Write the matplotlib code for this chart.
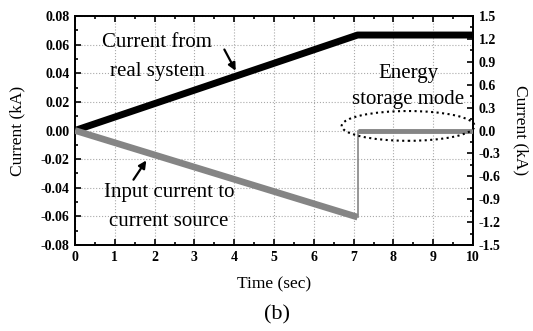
import matplotlib
matplotlib.use("Agg")
import matplotlib.pyplot as plt
from matplotlib.patches import Ellipse
from matplotlib.ticker import MultipleLocator

plt.rcParams['font.family'] = ['Liberation Serif', 'DejaVu Serif']

# data
real_t = [0.0, 7.1, 10.0]
real_i = [0.0, 0.0667, 0.0667]          # left axis (kA)
src_t = [0.0, 7.1]
src_i = [0.0, -1.135]                   # right axis (kA)
jump_t = [7.1, 7.1]
jump_i = [-1.135, 0.0]
store_t = [7.1, 10.0]
store_i = [0.0, 0.0]

fig = plt.figure(figsize=(5.33, 3.31), dpi=100)
ax = fig.add_axes([75/533, 1-245/331, (473-75)/533, (245-16)/331])
ax2 = ax.twinx()

ax.plot(real_t, real_i, color='black', lw=5, solid_capstyle='butt', zorder=5)
ax2.plot(src_t, src_i, color='#858585', lw=4.8, solid_capstyle='butt', zorder=4)
ax2.plot(jump_t, jump_i, color='#858585', lw=1.2, zorder=4)
ax2.plot(store_t, store_i, color='#858585', lw=3.5, solid_capstyle='butt', zorder=4)

ax.set_xlim(0, 10)
ax.set_ylim(-0.08, 0.08)
ax2.set_ylim(-1.5, 1.5)

ax.xaxis.set_major_locator(MultipleLocator(1))
ax.xaxis.set_minor_locator(MultipleLocator(0.5))
ax.yaxis.set_minor_locator(MultipleLocator(0.01))
ax2.yaxis.set_minor_locator(MultipleLocator(0.15))
ax.set_yticks([-0.08, -0.06, -0.04, -0.02, 0, 0.02, 0.04, 0.06, 0.08])
ax.set_yticklabels(['-0.08', '-0.06', '-0.04', '-0.02', '0.00', '0.02', '0.04', '0.06', '0.08'])
ax2.set_yticks([-1.5, -1.2, -0.9, -0.6, -0.3, 0, 0.3, 0.6, 0.9, 1.2, 1.5])
ax2.set_yticklabels(['-1.5', '-1.2', '-0.9', '-0.6', '-0.3', '0.0', '0.3', '0.6', '0.9', '1.2', '1.5'])

for a in (ax, ax2):
    a.tick_params(which='both', direction='in', top=True, labelsize=10, width=1.2, pad=4)
    a.tick_params(which='major', length=4)
    a.tick_params(which='minor', length=2)
    for s in a.spines.values():
        s.set_linewidth(1.3)
for lab in ax.get_xticklabels() + ax.get_yticklabels() + ax2.get_yticklabels():
    lab.set_fontweight('bold')

ax.grid(True, which='major', linestyle=':', color='#aaaaaa', lw=0.8)

ax.set_xlabel('Time (sec)', fontsize=12.5)
ax.set_ylabel('Current (kA)', fontsize=12.5)
ax2.set_ylabel('Current (kA)', fontsize=12.5, rotation=-90)
ax.xaxis.set_label_coords(0.5, -0.135)
ax.yaxis.set_label_coords(-0.125, 0.5)
ax2.yaxis.set_label_coords(1.14, 0.5)

ax.text(2.06, 0.0514, 'Current from\nreal system', fontsize=15, ha='center', va='center',
        linespacing=1.7, zorder=10)
ax.annotate('', xy=(4.07, 0.040), xytext=(3.72, 0.0583),
            arrowprops=dict(arrowstyle='-|>', color='black', lw=1.6, mutation_scale=11))
ax.text(2.36, -0.0535, 'Input current to\ncurrent source', fontsize=15, ha='center', va='center',
        linespacing=1.7, zorder=10)
ax.annotate('', xy=(1.83, -0.0193), xytext=(1.43, -0.036),
            arrowprops=dict(arrowstyle='-|>', color='black', lw=1.6, mutation_scale=11))
ax2.text(8.37, 0.58, 'Energy\nstorage mode', fontsize=15, ha='center', va='center',
         linespacing=1.5, zorder=10)
ax2.add_patch(Ellipse((8.37, 0.06), 3.34, 0.39, fill=False, ls=':', lw=1.5,
                      edgecolor='black', clip_on=False, zorder=6))

fig.text(277/533, 1-315/331, '(b)', fontsize=16, ha='center', va='center')

fig.savefig('out.png', dpi=100)
